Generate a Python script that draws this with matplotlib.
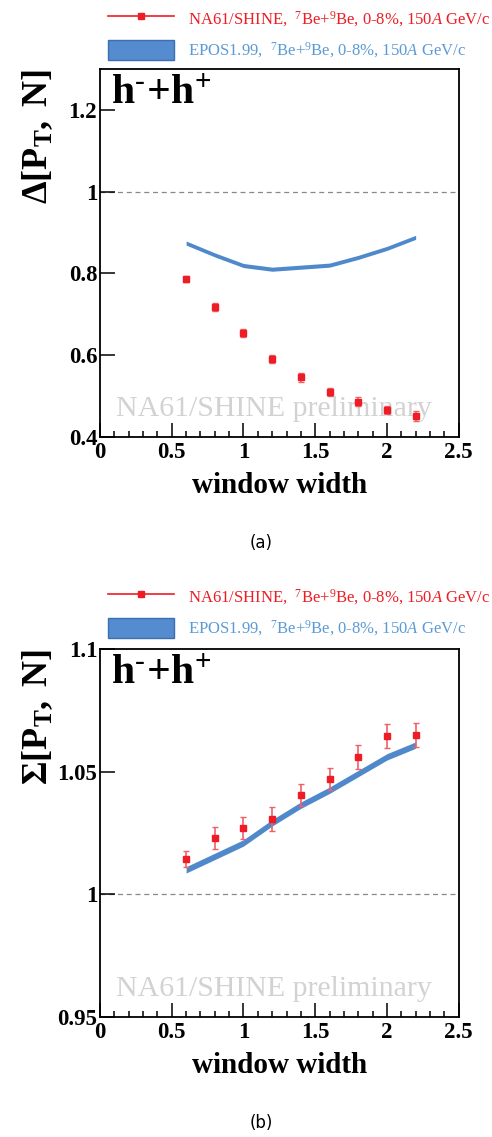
import numpy as np
import matplotlib
matplotlib.use('Agg')
import matplotlib.pyplot as plt
from matplotlib.lines import Line2D
from matplotlib.patches import Patch
from matplotlib.ticker import MultipleLocator

plt.rcParams['font.family'] = ['Liberation Serif', 'DejaVu Serif']
plt.rcParams['mathtext.fontset'] = 'custom'
plt.rcParams['mathtext.rm'] = 'Liberation Serif'
plt.rcParams['mathtext.it'] = 'Liberation Serif:italic'
plt.rcParams['mathtext.bf'] = 'Liberation Serif:bold'

# window widths
width = [0.6, 0.8, 1.0, 1.2, 1.4, 1.6, 1.8, 2.0, 2.2]

# Delta[PT, N]
delta_data = [0.786, 0.717, 0.654, 0.590, 0.545, 0.509, 0.485, 0.465, 0.450]
delta_err = [0.008, 0.010, 0.009, 0.009, 0.010, 0.010, 0.011, 0.010, 0.012]
delta_epos = [0.874, 0.845, 0.819, 0.810, 0.815, 0.820, 0.839, 0.861, 0.888]
delta_epos_err = [0.005, 0.005, 0.005, 0.005, 0.005, 0.005, 0.005, 0.005, 0.005]

# Sigma[PT, N]
sigma_data = [1.0143, 1.0229, 1.0271, 1.0306, 1.0405, 1.0469, 1.0560, 1.0645, 1.0649]
sigma_err = [0.0033, 0.0045, 0.0045, 0.0048, 0.0045, 0.0046, 0.0050, 0.0049, 0.0050]
sigma_epos = [1.0099, 1.0154, 1.0209, 1.0291, 1.0363, 1.0424, 1.0492, 1.0560, 1.0608]
sigma_epos_err = [0.0013, 0.0013, 0.0013, 0.0013, 0.0013, 0.0013, 0.0013, 0.0013, 0.0013]

red = '#ee1c24'
blue = '#5089cb'
blue_txt = '#5b9bd5'

fig = plt.figure(figsize=(4.92, 11.37), dpi=100)
ax1 = fig.add_axes([0.2033, 0.6159, 0.7290, 0.3234])
ax2 = fig.add_axes([0.2033, 0.1058, 0.7290, 0.3234])


def panel(ax, data, err, epos, epos_err, ylim, yticks, yticklabels, ylabel):
    x = np.array(width)
    m = np.array(epos)
    e = np.array(epos_err)
    ax.fill_between(x, m - e, m + e, color=blue, lw=0, zorder=2)
    ax.errorbar(x, data, yerr=err, fmt='s', color=red, ms=5, elinewidth=1.2,
                capsize=2, capthick=1, ecolor='#f06068', zorder=3)
    ax.axhline(1, color='#888888', ls=(0, (4, 3)), lw=0.9, zorder=1)
    ax.set_xlim(0, 2.5)
    ax.set_ylim(*ylim)
    ax.set_xticks([0, 0.5, 1, 1.5, 2, 2.5])
    ax.set_xticklabels(['0', '0.5', '1', '1.5', '2', '2.5'])
    ax.xaxis.set_minor_locator(MultipleLocator(0.1))
    ax.set_yticks(yticks)
    ax.set_yticklabels(yticklabels)
    ax.tick_params(axis='x', which='major', direction='in', length=10, width=1.1, pad=4, labelsize=16.5)
    ax.tick_params(axis='x', which='minor', direction='in', length=4.5, width=1.1)
    ax.tick_params(axis='y', which='major', direction='in', length=11, width=1.1, pad=2, labelsize=16.5)
    for lab in ax.get_xticklabels() + ax.get_yticklabels():
        lab.set_fontweight('bold')
    for s in ax.spines.values():
        s.set_linewidth(1.3)
    ax.set_xlabel('window width', fontsize=21, fontweight='bold', labelpad=6)
    ax.set_ylabel(ylabel, fontsize=26, loc='top')
    ax.yaxis.set_label_coords(-0.125, 1.0)
    ax.text(0.03, 0.985, r'$\mathbf{h^{\text{-}}\!+\!h^{+}}$', transform=ax.transAxes,
            fontsize=30, va='top', ha='left')
    ax.text(0.486, 0.075, 'NA61/SHINE preliminary', transform=ax.transAxes,
            fontsize=21.5, color='#d2d2d2', ha='center', va='center', zorder=0)


panel(ax1, delta_data, delta_err, delta_epos, delta_epos_err, (0.4, 1.3),
      [0.4, 0.6, 0.8, 1.0, 1.2], ['0.4', '0.6', '0.8', '1', '1.2'],
      r'$\mathbf{\Delta[P_{T},\ N]}$')
panel(ax2, sigma_data, sigma_err, sigma_epos, sigma_epos_err, (0.95, 1.1),
      [0.95, 1.0, 1.05, 1.1], ['0.95', '1', '1.05', '1.1'],
      r'$\mathbf{\Sigma[P_{T},\ N]}$')

labels = [r'NA61/SHINE,  $^{7}$Be+$^{9}$Be, 0-8%, 150$\mathit{A}$ GeV/c',
          r'EPOS1.99,  $^{7}$Be+$^{9}$Be, 0-8%, 150$\mathit{A}$ GeV/c']
for top in (0.9925, 0.4842):
    handles = [Line2D([], [], color=red, marker='s', ms=5, lw=1.2),
               Patch(facecolor='#558bcf', edgecolor='#3a6fb0', lw=1)]
    fig.legend(handles, labels, loc='upper left', bbox_to_anchor=(0.2195, top),
               frameon=False, fontsize=12, handlelength=3.96, handleheight=1.45,
               handletextpad=0.84, labelspacing=0.7, borderpad=0, borderaxespad=0,
               labelcolor=[red, blue_txt])

fig.text(261 / 492, 1 - 543 / 1137, '(a)', fontsize=12, family='DejaVu Sans',
         ha='center', va='center')
fig.text(261 / 492, 1 - 1123 / 1137, '(b)', fontsize=12, family='DejaVu Sans',
         ha='center', va='center')

fig.savefig('out.png', dpi=100)
